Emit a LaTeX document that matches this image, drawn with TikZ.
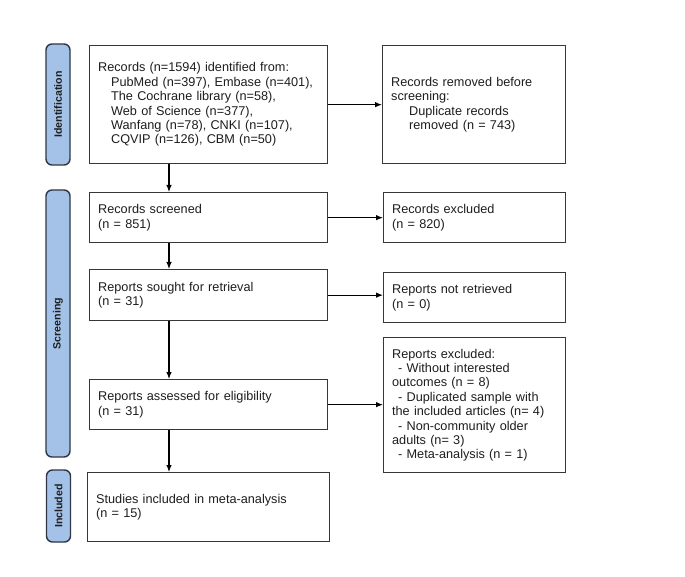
\documentclass[tikz,border=0pt]{standalone}
\usepackage{fontspec}
\setmainfont{Liberation Sans}
\usetikzlibrary{arrows.meta}
\definecolor{sidefill}{RGB}{164,194,232}
\definecolor{sidedraw}{RGB}{45,55,70}
\definecolor{boxdraw}{RGB}{55,55,55}
\definecolor{txt}{RGB}{30,30,30}
\begin{document}
\begin{tikzpicture}[x=1pt,y=-1pt,
  box/.style={draw=boxdraw, line width=1.3pt, fill=white, rectangle, anchor=north west,
    inner xsep=8.5pt, inner ysep=0pt, align=left, text=txt,
    font=\fontsize{12.7pt}{14.4pt}\selectfont},
  side/.style={draw=sidedraw, line width=1.4pt, fill=sidefill, rounded corners=6pt,
    rotate=90, minimum height=24pt, inner sep=0pt, text=txt,
    font=\fontsize{10.6pt}{12pt}\selectfont\bfseries},
  arr/.style={line width=1.1pt, -{Latex[length=7pt,width=5.5pt]}}]
\useasboundingbox (0,0) rectangle (685,577);
\fill[white] (0,0) rectangle (685,577);
% sidebars
\node[side, minimum width=121pt] (sid) at (58,104.5) {Identification};
\node[side, minimum width=267pt] (ssc) at (58,323.5) {Screening};
\node[side, minimum width=72pt] (sin) at (58.5,506) {Included};
% boxes
\node[box, minimum width=238pt, minimum height=118pt, text width=221pt] (b1) at (89,45)
 {Records (n=1594) identified from:\\
  \hspace*{13pt}PubMed (n=397), Embase (n=401),\\
  \hspace*{13pt}The Cochrane library (n=58),\\
  \hspace*{13pt}Web of Science (n=377),\\
  \hspace*{13pt}Wanfang (n=78), CNKI (n=107),\\
  \hspace*{13pt}CQVIP (n=126), CBM (n=50)};
\node[box, minimum width=183pt, minimum height=118pt, text width=166pt] (dup) at (382,45)
 {Records removed before\\
  screening:\\
  \hspace*{18pt}Duplicate records\\
  \hspace*{18pt}removed (n = 743)};
\node[box, minimum width=238pt, minimum height=50pt, text width=221pt] (scr) at (89,192)
 {Records screened\\(n = 851)};
\node[box, minimum width=182pt, minimum height=50pt, text width=165pt] (exc) at (383,192)
 {Records excluded\\(n = 820)};
\node[box, minimum width=238pt, minimum height=51pt, text width=221pt] (sou) at (89,269)
 {Reports sought for retrieval\\(n = 31)};
\node[box, minimum width=182pt, minimum height=50pt, text width=165pt] (nre) at (383,272)
 {Reports not retrieved\\(n = 0)};
\node[box, minimum width=238pt, minimum height=50pt, text width=221pt] (ass) at (89,379)
 {Reports assessed for eligibility\\(n = 31)};
\node[box, minimum width=182pt, minimum height=135pt, text width=165pt] (rex) at (383,337)
 {Reports excluded:\\
  \hspace*{6pt}- Without interested\\
  outcomes (n = 8)\\
  \hspace*{6pt}- Duplicated sample with\\
  the included articles (n= 4)\\
  \hspace*{6pt}- Non-community older\\
  adults (n= 3)\\
  \hspace*{6pt}- Meta-analysis (n = 1)};
\node[box, minimum width=242pt, minimum height=69pt, text width=225pt] (stu) at (87,472)
 {Studies included in meta-analysis\\(n = 15)};
% connectors
\coordinate (ax) at (169,0);
\draw[arr] (b1.south -| ax) -- (scr.north -| ax);
\draw[arr] (scr.south -| ax) -- (sou.north -| ax);
\draw[arr] (sou.south -| ax) -- (ass.north -| ax);
\draw[arr] (ass.south -| ax) -- (stu.north -| ax);
\draw[arr] (b1.east) -- (dup.west |- b1.east);
\draw[arr] (scr.east) -- (exc.west |- scr.east);
\draw[arr] (sou.east) -- (nre.west |- sou.east);
\draw[arr] (ass.east) -- (rex.west |- ass.east);
\end{tikzpicture}
\end{document}
